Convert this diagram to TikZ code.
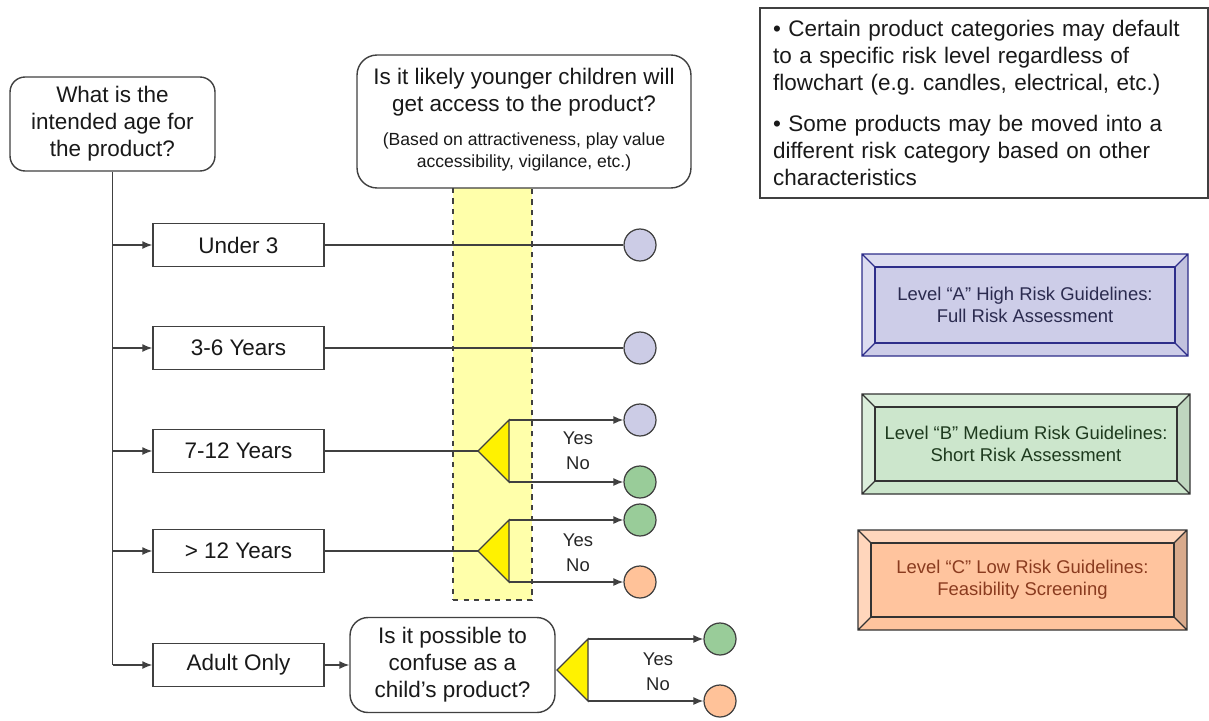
\documentclass[tikz,border=0pt]{standalone}
\usepackage{fontspec}
\setmainfont{Liberation Sans}
\usetikzlibrary{arrows.meta,positioning,calc}
\usepackage{xcolor}
\frenchspacing
\definecolor{ink}{HTML}{404040}
\definecolor{zoneyellow}{HTML}{FFFFAA}
\definecolor{lav}{HTML}{CCCCE6}
\definecolor{grn}{HTML}{99CC99}
\definecolor{org}{HTML}{FFC299}
\definecolor{fillA}{HTML}{CDCDE8}
\definecolor{lightA}{HTML}{DCDCF0}
\definecolor{darkA}{HTML}{C2C2DE}
\definecolor{lineA}{HTML}{2E2E8A}
\definecolor{textA}{HTML}{2B2B4F}
\definecolor{fillB}{HTML}{CCE6CC}
\definecolor{lightB}{HTML}{DBEEDB}
\definecolor{darkB}{HTML}{BFD6BF}
\definecolor{lineB}{HTML}{333333}
\definecolor{textB}{HTML}{1E3A1E}
\definecolor{fillC}{HTML}{FFC49E}
\definecolor{lightC}{HTML}{FFD6BC}
\definecolor{darkC}{HTML}{D9AA8C}
\definecolor{lineC}{HTML}{333333}
\definecolor{textC}{HTML}{8A3B1F}
\begin{document}
\begin{tikzpicture}[x=0.02cm, y=-0.02cm,
  txt/.style={font=\fontsize{12.8}{15.4}\selectfont, text=black!90},
  q/.style={txt, rectangle, rounded corners=0.3cm, draw=ink, line width=0.8pt, fill=white, align=center, inner sep=0pt},
  agebox/.style={txt, rectangle, draw=ink, line width=0.8pt, fill=white, minimum width=3.42cm, minimum height=0.86cm, inner sep=0pt},
  dot/.style={circle, draw=ink, line width=0.7pt, fill=#1, minimum size=0.64cm, inner sep=0pt},
  tri/.style={draw=ink, line width=0.7pt, fill=yellow},
  arr/.style={-{Latex[length=2mm,width=1.6mm]}, line width=0.8pt, ink},
  ln/.style={line width=0.8pt, ink},
  yn/.style={font=\fontsize{10.5}{12.5}\selectfont, text=black!85},
  bevtxt/.style={font=\fontsize{10.5}{12.5}\selectfont, align=center}
]
  \useasboundingbox (0,0) rectangle (1209,720);
  % Access zone
  \node[draw=ink, dashed, line width=0.8pt, fill=zoneyellow, minimum width=1.58cm, minimum height=8.34cm, inner sep=0pt] (zone) at (492.5,391.5) {};
  % Questions
  \node[q, minimum width=4.1cm, minimum height=1.88cm] (ask) at (112.5,124) {What is the\\intended age for\\the product?};
  \node[q, rounded corners=0.4cm, minimum width=6.68cm, minimum height=2.66cm] (access) at (524,121.5) {Is it likely younger children will\\get access to the product?\\[7pt]{\fontsize{10}{12.5}\selectfont\begin{tabular}{@{}c@{}}(Based on attractiveness, play value\\accessibility, vigilance, etc.)\end{tabular}}};
  % Age groups
  \foreach \n/\y/\lbl in {u3/245/Under 3, y36/348/3-6 Years, y712/451/7-12 Years, y12/551/> 12 Years, adult/665/Adult Only}{
    \node[agebox] (\n) at (238.5,\y) {\lbl};
    \draw[arr] (ask.south |- \n.west) -- (\n.west);
  }
  \draw[ln] (ask.south) -- (ask.south |- adult.west);
  \node[q, rounded corners=0.36cm, minimum width=4.1cm, minimum height=1.9cm] (confuse) at (452.5,665) {Is it possible to\\confuse as a\\child’s product?};
  \draw[arr] (adult.east) -- (confuse.west);
  % Decisions
  \foreach \i/\x/\y in {1/478/451, 2/478/551, 3/557/670}{
    \coordinate (tip\i) at (\x,\y);
    \coordinate (top\i) at (\x+31,\y-31);
    \coordinate (bot\i) at (\x+31,\y+31);
    \draw[tri] (tip\i) -- (top\i) -- (bot\i) -- cycle;
  }
  \draw[ln] (y712.east) -- (tip1);
  \draw[ln] (y12.east) -- (tip2);
  % Outcomes
  \foreach \n/\x/\y/\c in {d1/640/245/lav, d2/640/348/lav, d3/640/420/lav, d4/640/482/grn, d5/640/520/grn, d6/640/582/org, d7/720/639/grn, d8/720/701/org}
    \node[dot=\c] (\n) at (\x,\y) {};
  \draw[ln] (u3.east) -- (d1.west);
  \draw[ln] (y36.east) -- (d2.west);
  \draw[arr] (top1) -- (d3.west);
  \draw[arr] (bot1) -- (d4.west);
  \draw[arr] (top2) -- (d5.west);
  \draw[arr] (bot2) -- (d6.west);
  \draw[arr] (top3) -- (d7.west);
  \draw[arr] (bot3) -- (d8.west);
  \foreach \i/\x/\y in {1/578/438, 2/578/540, 3/658/659}{
    \node[yn] (yes\i) at (\x,\y) {Yes};
    \node[yn] (no\i) at (\x,\y+25) {No};
  }
  % Notes
  \node[txt, draw=ink, line width=0.7pt, minimum width=8.96cm, minimum height=3.8cm, text width=8.44cm, inner xsep=0.26cm, align=left] (notes) at (984,103) {• Certain product categories may default\\to a specific risk level regardless of\\flowchart (e.g. candles, electrical, etc.)\\[8pt]• Some products may be moved into a\\different risk category based on other\\characteristics};
  % Risk levels
  \foreach \n/\xa/\ya/\xb/\yb/\lbl in {A/862/254/1188/356/{Level “A” High Risk Guidelines:\\Full Risk Assessment}, B/862/394/1190/494/{Level “B” Medium Risk Guidelines:\\Short Risk Assessment}, C/858/530/1187/630/{Level “C” Low Risk Guidelines:\\Feasibility Screening}}{
    \fill[fill=light\n] (\xa,\ya) -- (\xb,\ya) -- (\xb-13,\ya+13) -- (\xa+13,\ya+13) -- (\xa+13,\yb-13) -- (\xa,\yb) -- cycle;
    \fill[fill=dark\n] (\xb,\ya) -- (\xb,\yb) -- (\xb-13,\yb-13) -- (\xb-13,\ya+13) -- cycle;
    \fill[fill=fill\n] (\xa,\yb) -- (\xb,\yb) -- (\xb-13,\yb-13) -- (\xa+13,\yb-13) -- cycle;
    \draw[draw=line\n, line width=0.7pt, fill=fill\n] (\xa+13,\ya+13) rectangle (\xb-13,\yb-13);
    \draw[draw=line\n, line width=0.7pt] (\xa,\ya) rectangle (\xb,\yb)
      (\xa,\ya) -- (\xa+13,\ya+13) (\xb,\ya) -- (\xb-13,\ya+13)
      (\xa,\yb) -- (\xa+13,\yb-13) (\xb,\yb) -- (\xb-13,\yb-13);
    \node[bevtxt, text=text\n] (lev\n) at ({(\xa+\xb)/2},{(\ya+\yb)/2}) {\lbl};
  }
\end{tikzpicture}
\end{document}
